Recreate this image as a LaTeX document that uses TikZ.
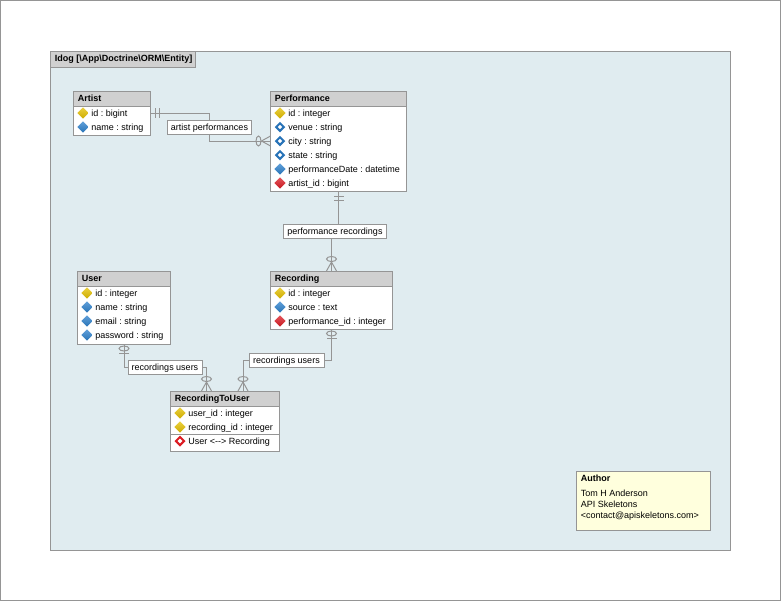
\documentclass[tikz,border=0pt]{standalone}
\usepackage{fontspec}
\setmainfont{Liberation Sans}
\usetikzlibrary{shapes.geometric}
\def\px{0.75pt}
\definecolor{edgegray}{HTML}{959595}
\definecolor{headgray}{HTML}{D0D0D0}
\definecolor{pagegreen}{HTML}{E0ECF0}
\definecolor{notecream}{HTML}{FFFFDD}
\definecolor{keyyellow}{HTML}{E4C000}
\definecolor{fieldblue}{HTML}{2C80CC}
\definecolor{fkred}{HTML}{DC1C24}
\tikzset{
  basefont/.style={font=\fontsize{6.75}{8.4}\selectfont\frenchspacing},
  entitybox/.style={draw=edgegray,fill=white,line width=\px,inner sep=0pt,outer sep=0pt,anchor=north west},
  headbox/.style={draw=edgegray,fill=headgray,line width=\px,inner sep=0pt,outer sep=0pt,anchor=north west,minimum height=15*\px},
  headtext/.style={font=\fontsize{6.75}{8.4}\selectfont\bfseries\frenchspacing,inner sep=0pt,anchor=west,text height=5.5pt,text depth=0.7pt},
  attrtext/.style={basefont,inner sep=0pt,anchor=west,text height=5.5pt,text depth=0.7pt},
  edgelabel/.style={basefont,draw=edgegray,fill=white,line width=\px,inner sep=0pt,outer sep=0pt,minimum height=14*\px,text height=5.5pt,text depth=0.7pt},
  rel/.style={draw=edgegray,line width=\px},
  keyicon/.style={diamond,inner sep=0pt,minimum size=11.5*\px,top color=keyyellow!75!white,bottom color=keyyellow!90!black},
  fieldicon/.style={diamond,inner sep=0pt,minimum size=11.5*\px,top color=fieldblue!75!white,bottom color=fieldblue!90!black},
  fkicon/.style={diamond,inner sep=0pt,minimum size=11.5*\px,top color=fkred!75!white,bottom color=fkred!90!black},
  indexicon/.style={diamond,inner sep=0pt,minimum size=8.5*\px,draw=fieldblue!90!black,line width=2*\px,fill=white},
  uniqueicon/.style={diamond,inner sep=0pt,minimum size=9*\px,draw=fkred,line width=2*\px,fill=white},
  % local x points away from the box
  oneone/.pic={
    \draw[rel] (5,-5) -- (5,5);
    \draw[rel] (9,-5) -- (9,5);
  },
  zeroone/.pic={
    \draw[rel] (9,-5) -- (9,5);
    \draw[rel] (4.5,0) ellipse (2.5 and 5);
  },
  zeromany/.pic={
    \draw[rel] (9,0) -- (0,-5);
    \draw[rel] (9,0) -- (0,5);
    \draw[rel] (12,0) ellipse (2.5 and 5);
  },
}
\begin{document}
\begin{tikzpicture}[x=\px,y=-\px]
  \useasboundingbox (0,0) rectangle (781,601);
  \draw[edgegray,line width=\px] (0.5,0.5) rectangle (780.5,600.5);

  % Package
  \node[entitybox,fill=pagegreen,minimum width=680*\px,minimum height=499*\px] (idog) at (50.5,51) {};
  \node[headbox,minimum width=144.5*\px,minimum height=16*\px] (idoghead) at (50.5,51) {};
  \node[headtext] (idogtitle) at (54.5,58.5) {Idog [\textbackslash App\textbackslash Doctrine\textbackslash ORM\textbackslash Entity]};

  % Artist
  \node[entitybox,minimum width=77*\px,minimum height=44*\px] (artist) at (73.5,91) {};
  \node[headbox,minimum width=77*\px] (artisthead) at (73.5,91) {};
  \node[headtext] (artisttitle) at (77.5,98.5) {Artist};
  \foreach \n/\ic/\y/\t in {id/keyicon/113/id : bigint,name/fieldicon/127/name : string} {
    \node[\ic] (artist\n icon) at (83,\y) {};
    \node[attrtext] (artist\n) at (91,\y) {\t};
  }

  % Performance
  \node[entitybox,minimum width=136*\px,minimum height=100*\px] (performance) at (270.5,91) {};
  \node[headbox,minimum width=136*\px] (performancehead) at (270.5,91) {};
  \node[headtext] (performancetitle) at (274.5,98.5) {Performance};
  \foreach \n/\ic/\y/\t in {id/keyicon/113/id : integer,venue/indexicon/127/venue : string,
      city/indexicon/141/city : string,state/indexicon/155/state : string,
      date/fieldicon/169/performanceDate : datetime,artist/fkicon/183/artist\_id : bigint} {
    \node[\ic] (performance\n icon) at (280,\y) {};
    \node[attrtext] (performance\n) at (288,\y) {\t};
  }

  % Recording
  \node[entitybox,minimum width=122*\px,minimum height=58*\px] (recording) at (270.5,271) {};
  \node[headbox,minimum width=122*\px] (recordinghead) at (270.5,271) {};
  \node[headtext] (recordingtitle) at (274.5,278.5) {Recording};
  \foreach \n/\ic/\y/\t in {id/keyicon/293/id : integer,source/fieldicon/307/source : text,
      performance/fkicon/321/performance\_id : integer} {
    \node[\ic] (recording\n icon) at (280,\y) {};
    \node[attrtext] (recording\n) at (288,\y) {\t};
  }

  % User
  \node[entitybox,minimum width=93*\px,minimum height=73*\px] (user) at (77.5,271) {};
  \node[headbox,minimum width=93*\px] (userhead) at (77.5,271) {};
  \node[headtext] (usertitle) at (81.5,278.5) {User};
  \foreach \n/\ic/\y/\t in {id/keyicon/293/id : integer,name/fieldicon/307/name : string,
      email/fieldicon/321/email : string,password/fieldicon/335/password : string} {
    \node[\ic] (user\n icon) at (87,\y) {};
    \node[attrtext] (user\n) at (95,\y) {\t};
  }

  % RecordingToUser
  \node[entitybox,minimum width=108.5*\px,minimum height=60*\px] (rtu) at (170.5,391) {};
  \node[headbox,minimum width=108.5*\px] (rtuhead) at (170.5,391) {};
  \node[headtext] (rtutitle) at (174.5,398.5) {RecordingToUser};
  \foreach \n/\ic/\y/\t in {user/keyicon/413/user\_id : integer,recording/keyicon/427/recording\_id : integer,
      both/uniqueicon/441/User <-{}-> Recording} {
    \node[\ic] (rtu\n icon) at (180,\y) {};
    \node[attrtext] (rtu\n) at (188,\y) {\t};
  }
  \coordinate (rtusepa) at (rtu.west |- 0,434.5);
  \coordinate (rtusepb) at (rtu.east |- 0,434.5);
  \draw[rel] (rtusepa) -- (rtusepb);

  % Author
  \node[entitybox,fill=notecream,minimum width=134*\px,minimum height=59*\px] (author) at (576.5,471) {};
  \node[headtext] (authortitle) at (580.5,478) {Author};
  \node[attrtext] (authorname) at (580.5,493) {Tom H Anderson};
  \node[attrtext] (authorcompany) at (580.5,504) {API Skeletons};
  \node[attrtext] (authormail) at (580.5,515) {<contact@apiskeletons.com>};

  % Relation labels
  \node[edgelabel,minimum width=84*\px] (artistperf) at (209.5,127) {artist performances};
  \node[edgelabel,minimum width=103*\px] (perfrec) at (335,231) {performance recordings};
  \node[edgelabel,minimum width=74*\px] (recuserleft) at (165,367) {recordings users};
  \node[edgelabel,minimum width=75*\px] (recuserright) at (286.5,360) {recordings users};

  % Connectors
  \coordinate (rtuleft) at (206.5,391);
  \coordinate (rturight) at (243,391);
  \draw[rel] (artist.east |- artistid) -| (artistperf.north);
  \draw[rel] (artistperf.south) |- (performance.west |- performancecity);
  \draw[rel] (performance.south) -- (performance.south |- perfrec.north);
  \draw[rel] (recording.north) -- (recording.north |- perfrec.south);
  \draw[rel] (recording.south) |- (recuserright.east);
  \draw[rel] (recuserright.west) -| (rturight);
  \draw[rel] (user.south) |- (recuserleft.west);
  \draw[rel] (recuserleft.east) -| (rtuleft);

  % Line ends
  \pic at (artist.east |- artistid) {oneone};
  \pic[rotate=180] at (performance.west |- performancecity) {zeromany};
  \pic[rotate=-90] at (performance.south) {oneone};
  \pic[rotate=90] at (recording.north) {zeromany};
  \pic[rotate=-90] at (recording.south) {zeroone};
  \pic[rotate=-90] at (user.south) {zeroone};
  \pic[rotate=90] at (rtuleft) {zeromany};
  \pic[rotate=90] at (rturight) {zeromany};
\end{tikzpicture}
\end{document}
